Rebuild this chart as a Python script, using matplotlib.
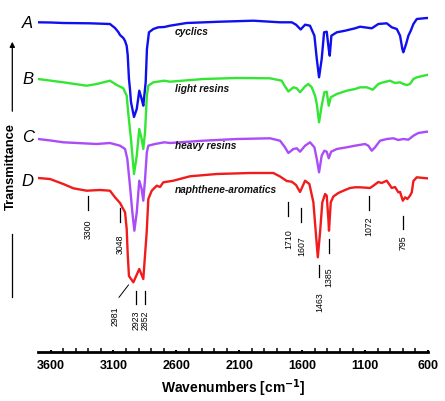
import matplotlib
matplotlib.use("Agg")
import matplotlib.pyplot as plt

plt.rcParams['font.family'] = ['Liberation Sans', 'DejaVu Sans']

# ---- data (wavenumber, vertical signal position; larger = lower on chart) ----
wn_a = [3700, 3600, 3499, 3287, 3128, 3088, 3062, 3048, 3022, 3008, 2995, 2987, 2977, 2969, 2961,
        2937, 2915, 2895, 2876, 2863, 2844, 2834, 2818, 2783, 2744, 2696, 2651, 2518, 2253, 1988,
        1776, 1683, 1649, 1612, 1577, 1538, 1503, 1484, 1466, 1445, 1426, 1405, 1389, 1381, 1368,
        1325, 1259, 1180, 1140, 1047, 995, 928, 888, 848, 822, 804, 796, 774, 756, 737, 716, 689,
        610, 600]
sig_a = [23.3, 23.5, 24, 24.3, 25, 29, 33, 36, 39, 42, 47, 56, 80, 90, 103,
         118, 110, 91.7, 100, 106.7, 83, 50, 33.3, 30, 28.3, 28, 26.7, 24, 22.7, 21.7,
         23.3, 23.3, 25.7, 30.5, 25.7, 26.7, 36.7, 60, 78.3, 60, 33.3, 32.7, 50, 56.7, 36.7,
         33.3, 31.7, 29.3, 27.7, 29.3, 25, 24.3, 28.3, 30, 36.7, 50, 53.3, 45, 36.7, 31.7, 25, 20,
         19, 19]

wn_b = [3700, 3499, 3313, 3233, 3128, 3074, 3022, 2995, 2982, 2961, 2937, 2915, 2895, 2876, 2863,
        2849, 2835, 2823, 2783, 2696, 2651, 2386, 2120, 1856, 1763, 1737, 1710, 1670, 1643, 1617,
        1577, 1551, 1524, 1498, 1484, 1466, 1445, 1424, 1405, 1389, 1373, 1325, 1246, 1180, 1140,
        1087, 1039, 995, 955, 902, 862, 822, 796, 769, 743, 716, 689, 610, 600]
sig_b = [80, 83.3, 86.7, 85, 81.7, 86, 89.3, 96.7, 115, 140, 175, 156.7, 130, 140, 150,
         133, 96.7, 86.7, 83.3, 81.7, 82.7, 80, 79, 79.3, 81.7, 87.3, 92.5, 88.3, 89.3, 93.3,
         87.3, 85, 88.3, 96.7, 105, 123.3, 106.7, 93.3, 92.7, 106.7, 98.3, 95, 91.7, 90, 88.3,
         88.3, 90.7, 85, 83.3, 81.7, 84, 83.3, 85, 86, 85, 80, 78.3, 76, 76]

wn_c = [3700, 3600, 3499, 3233, 3128, 3048, 3008, 2990, 2969, 2950, 2934, 2915, 2895, 2876, 2863,
        2849, 2835, 2823, 2770, 2696, 2651, 2386, 2120, 1856, 1776, 1737, 1710, 1670, 1643, 1617,
        1577, 1538, 1503, 1484, 1466, 1445, 1424, 1405, 1389, 1370, 1325, 1246, 1180, 1101, 1074,
        1047, 1021, 981, 928, 875, 836, 796, 756, 716, 677, 610, 600]
sig_c = [140, 141.5, 143.3, 145, 144, 146.7, 150, 160, 186.7, 213.3, 231.7, 213.3, 181.7, 190, 201.7,
         180, 153.3, 146.7, 145, 143.3, 144, 141.7, 140, 139.3, 141.7, 148.3, 154, 150, 149.3, 152.7,
         146.7, 143.3, 148.3, 160, 173.3, 156.7, 151.7, 152.7, 159.3, 152.7, 150, 148.3, 146.7, 145, 146.7,
         151.7, 148.3, 141.7, 140, 139.3, 141, 140, 140.7, 136.7, 134, 132.7, 132.7]

wn_d = [3700, 3605, 3499, 3419, 3313, 3207, 3128, 3088, 3048, 3008, 2995, 2987, 2977, 2942, 2895,
        2863, 2836, 2823, 2796, 2756, 2730, 2704, 2624, 2492, 2279, 2015, 1829, 1776, 1723, 1683,
        1649, 1617, 1577, 1543, 1511, 1492, 1476, 1458, 1440, 1418, 1405, 1392, 1387, 1373, 1352,
        1313, 1259, 1220, 1180, 1140, 1061, 1034, 995, 968, 928, 888, 862, 836, 822, 800,
        782, 764, 743, 729, 716, 689, 610, 600]
sig_d = [179, 180, 185, 189.3, 191.7, 191, 191.7, 198.3, 204, 213.3, 230, 255, 277, 283.3, 270,
         280, 233, 200, 191.7, 186.7, 188, 183.3, 181.7, 177.3, 175, 174, 174, 177.5, 182, 182.7,
         186, 193, 181.7, 185, 203.3, 233.3, 258.3, 233.3, 203.3, 195, 196.7, 220, 231.7, 203.3, 197.5,
         194, 191, 189, 188.3, 188.3, 189, 186.7, 183, 184, 181.7, 189, 188, 193.3, 193, 201.7,
         198.3, 200, 196.7, 193.3, 182, 178.3, 179.3, 179.3]

series_letters = ['A', 'B', 'C', 'D']
series_names = ['cyclics', 'light resins', 'heavy resins', 'naphthene-aromatics']
series_colors = ['#1010EE', '#33E633', '#AA4CF8', '#F01C1C']

peak_labels = [3300, 3048, 2981, 2923, 2852, 1710, 1607, 1463, 1385, 1072, 795]

x_ticks = [3600, 3100, 2600, 2100, 1600, 1100, 600]

# ---- layout ----
W, H = 445, 402
fig = plt.figure(figsize=(W / 100, H / 100), dpi=100)
ax_l, ax_r, ax_b = 38, 428, 353
ax = fig.add_axes([ax_l / W, 1 - ax_b / H, (ax_r - ax_l) / W, ax_b / H])
ax.set_xlim(3700, 600)
ax.set_ylim(ax_b, 0)

wns = [wn_a, wn_b, wn_c, wn_d]
sigs = [sig_a, sig_b, sig_c, sig_d]
for w, s, c in zip(wns, sigs, series_colors):
    ax.plot(w, s, color=c, lw=1.7, solid_joinstyle='round')

# series names (y in same vertical units)
name_y = [32.3, 89, 146, 190]
for name, y in zip(series_names, name_y):
    ax.text(2610, y, name, fontsize=7.3, fontweight='bold', style='italic',
            ha='left', va='center', color='#111111')

# letters
letter_y = [24, 80, 137, 182]
for L, y in zip(series_letters, letter_y):
    fig.text(27.7 / W, 1 - y / H, L, fontsize=12, style='italic', ha='center', va='center')

# peak annotations: (line_top, line_bottom, text_top)
ann_layout = {
    3300: (197.3, 210.7, 220),
    3048: (209.3, 222.7, 235),
    2923: (292.3, 305, 311),
    2852: (292.3, 305, 311),
    1710: (202.7, 216.7, 229.3),
    1607: (209.3, 222.7, 236.7),
    1463: (266, 278.3, 292.7),
    1385: (240, 254, 267.3),
    1072: (197.3, 210.7, 216),
    795: (217.3, 230, 235),
}
for p in peak_labels:
    if p == 2981:
        ax.plot([2981, 3056], [286, 298.3], color='k', lw=0.7)
        ax.text(3088, 306, str(p), rotation=90, fontsize=6.3, ha='center', va='top')
        continue
    t, b, tt = ann_layout[p]
    ax.plot([p, p], [t, b], color='k', lw=0.9)
    ax.text(p, tt, str(p), rotation=90, fontsize=6.3, ha='center', va='top')

# axes styling
for s in ['left', 'right', 'top']:
    ax.spines[s].set_visible(False)
ax.spines['bottom'].set_linewidth(2.0)
ax.set_yticks([])
ax.set_xticks(x_ticks)
ax.set_xticks(range(3600, 599, -100), minor=True)
ax.tick_params(axis='x', which='major', direction='in', length=1.5, width=1.5, pad=5,
               labelsize=9)
ax.tick_params(axis='x', which='minor', direction='in', length=2.8, width=1.1)
for lab in ax.get_xticklabels():
    lab.set_fontweight('bold')
ax.set_xlabel('Wavenumbers [cm$^{\\mathbf{-1}}$]', fontsize=10, fontweight='bold', labelpad=4)
ax.patch.set_alpha(0)

# y label with arrow
fig.text(10.5 / W, 1 - 167 / H, 'Transmittance', rotation=90, fontsize=9.3,
         fontweight='bold', ha='center', va='center')
fig.add_artist(matplotlib.patches.FancyArrowPatch(
    (12.3 / W, 1 - 115 / H), (12.3 / W, 1 - 40 / H), transform=fig.transFigure,
    arrowstyle='-|>,head_length=3,head_width=1.5', color='k', lw=0.9))
fig.add_artist(matplotlib.lines.Line2D([12.3 / W, 12.3 / W], [1 - 235 / H, 1 - 298 / H],
                                       transform=fig.transFigure, color='k', lw=0.9))

fig.savefig('out.png', dpi=100)
